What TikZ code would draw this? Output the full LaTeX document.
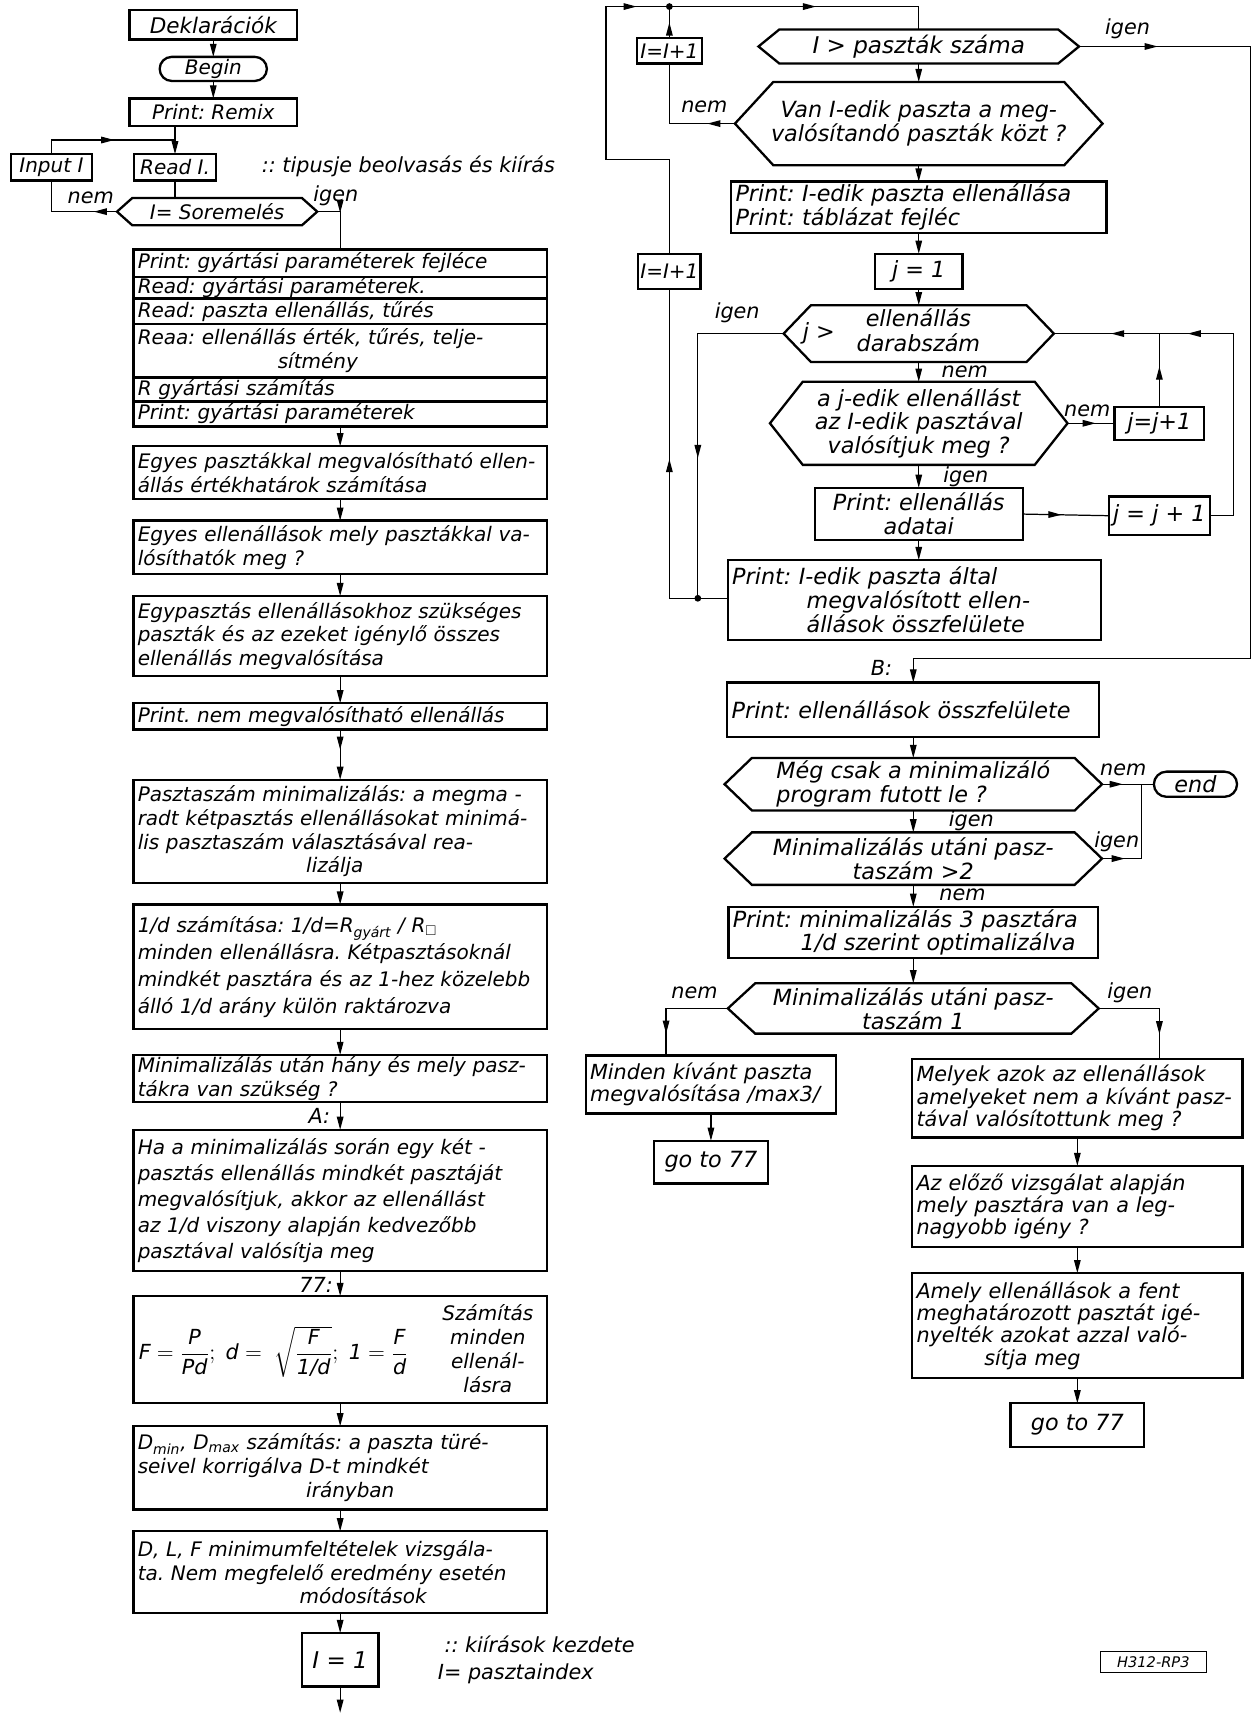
\documentclass[tikz,border=0pt]{standalone}
\usepackage{amsmath,amssymb}
\usepackage{fontspec}
\setmainfont{DejaVu Sans}
\usetikzlibrary{arrows.meta,decorations.markings}
\newcommand\myhex[2]{\draw[boxline] (#1.west) -- ([xshift=#2]#1.north west) -- ([xshift=-#2]#1.north east) -- (#1.east) -- ([xshift=-#2]#1.south east) -- ([xshift=#2]#1.south west) -- cycle;}
\newcommand\mytx[1]{\text{#1}}
\begin{document}
\frenchspacing
\begin{tikzpicture}[x=0.025cm,y=-0.025cm,
  >={Triangle[length=3mm,width=1.5mm]},
  every node/.style={outer sep=0pt},
  lf/.style={font=\fontsize{13}{15.5}\selectfont\itshape},
  rf/.style={font=\fontsize{14.5}{15.5}\selectfont\itshape},
  sf/.style={font=\fontsize{13.5}{14.5}\selectfont\itshape},
  boxline/.style={line width=1.5pt},
  ln/.style={line width=0.8pt},
  ar/.style={ln,->},
  mk/.style={postaction={decorate},decoration={markings,mark=at position #1 with {\arrow{>}}}},
  bx/.style={draw,boxline,inner xsep=0.1cm,inner ysep=1pt},
  sz/.style 2 args={minimum width=#1,minimum height=#2},
  tw/.style={text width=#1,align=left},
  lb/.style={bx,lf,sz={9.45cm}{#1},tw=9.25cm},
  rw/.style={bx,lf,sz={9.45cm}{#1},tw=9.25cm,inner ysep=0pt},
  hx/.style={inner sep=1pt,align=center},
  lbl/.style={font=\fontsize{13.5}{15}\selectfont\itshape,inner sep=1pt},
]
\fill[white] (0,0) rectangle (1146,1568);
\path[use as bounding box] (0,0) rectangle (1146,1568);

% ---------------- left column ----------------
\node[bx,sz={3.825cm}{0.675cm},font=\fontsize{14}{16}\selectfont\itshape] (dekl) at (195,22.5) {Deklarációk};
\node[bx,lf,sz={2.45cm}{0.55cm},rounded corners=0.275cm] (begin) at (195,63) {Begin};
\node[bx,lf,sz={3.825cm}{0.625cm}] (remix) at (195,102.5) {Print: Remix};
\node[bx,lf,sz={1.85cm}{0.6cm},inner xsep=1pt] (input) at (47,153) {Input I};
\node[bx,lf,sz={1.875cm}{0.6cm},inner xsep=1pt] (readi) at (160,153) {Read I.};
\node[lbl,anchor=west] (note1) at (238,152) {:: tipusje beolvasás és kiírás};
\node[hx,lf,sz={4.575cm}{0.625cm}] (sor) at (198.5,193.5) {I= Soremelés};
\myhex{sor}{0.35cm}
\node[lbl] (lnem1) at (83,181) {nem};
\node[lbl] (ligen1) at (307,179) {igen};

\node[rw=0.625cm] (r1) at (311,240.5) {Print: gyártási paraméterek fejléce};
\node[rw=0.5cm] (r2) at (311,263) {Read: gyártási paraméterek.};
\node[rw=0.575cm] (r3) at (311,284.5) {Read: paszta ellenállás, tűrés};
\node[rw=1.225cm] (r4) at (311,320.5) {Reaa: ellenállás érték, tűrés, telje-\\\hspace*{3.2cm}sítmény};
\node[rw=0.55cm] (r5) at (311,356) {R gyártási számítás};
\node[rw=0.575cm] (r6) at (311,378.5) {Print: gyártási paraméterek};

\node[lb=1.2cm] (b5) at (311,432) {Egyes pasztákkal megvalósítható ellen-\\állás értékhatárok számítása};
\node[lb=1.225cm] (b6) at (311,500.5) {Egyes ellenállások mely pasztákkal va-\\lósíthatók meg ?};
\node[lb=1.825cm] (b7) at (311,581.5) {Egypasztás ellenállásokhoz szükséges\\paszták és az ezeket igénylő összes\\ellenállás megvalósítása};
\node[lb=0.6cm] (b8) at (311,655) {Print. nem megvalósítható ellenállás};
\node[lb=2.35cm] (b9) at (311,760) {Pasztaszám minimalizálás: a megma -\\radt kétpasztás ellenállásokat minimá-\\lis pasztaszám választásával rea-\\\hspace*{3.85cm}lizálja};
\node[lb=2.85cm,font=\fontsize{13}{17.5}\selectfont\itshape] (b10) at (311,884) {1/d számítása: 1/d=R\textsubscript{gyárt} / R\textsubscript{$\square$}\\minden ellenállásra. Kétpasztásoknál\\mindkét pasztára és az 1-hez közelebb\\álló 1/d arány külön raktározva};
\node[lb=1.05cm] (b11) at (311,986) {Minimalizálás után hány és mely pasz-\\tákra van szükség ?};
\node[lbl] (lA) at (292,1020) {A:};
\node[lb=3.225cm,font=\fontsize{13}{17}\selectfont\itshape] (b12) at (311,1097.5) {Ha a minimalizálás során egy két -\\pasztás ellenállás mindkét pasztáját\\megvalósítjuk, akkor az ellenállást\\az 1/d viszony alapján kedvezőbb\\pasztával valósítja meg};
\node[lbl] (l77) at (289,1175) {77:};
\node[bx,sz={9.45cm}{2.45cm}] (b13) at (311,1234) {};
\node[font=\fontsize{13.5}{16}\selectfont\itshape] (b13f) at (250,1236) {$\mytx{F}=\dfrac{\mytx{P}}{\mytx{Pd}};\ \mytx{d}=\ \sqrt{\dfrac{\mytx{F}}{\mytx{1/d}}};\ \mytx{1}=\dfrac{\mytx{F}}{\mytx{d}}$};
\node[lf,align=center] (b13t) at (446,1233) {Számítás\\minden\\ellenál-\\lásra};
\node[lb=1.9cm] (b14) at (311,1342) {D\textsubscript{min}, D\textsubscript{max} számítás: a paszta türé-\\seivel korrigálva D-t mindkét\\\hspace*{3.85cm}irányban};
\node[lb=1.875cm] (b15) at (311,1437.5) {D, L, F minimumfeltételek vizsgála-\\ta. Nem megfelelő eredmény esetén\\\hspace*{3.7cm}módosítások};
\node[bx,sz={1.75cm}{1.225cm},font=\fontsize{15}{16}\selectfont\itshape] (i1) at (311,1517.5) {I = 1};
\node[lbl,anchor=west] (note2) at (405,1503) {:: kiírások kezdete};
\node[lbl,anchor=west] (note3) at (399,1530) {I= pasztaindex};
\coordinate (bend) at (311,1566);

% left connectors
\draw[ar] (dekl.south) -- (begin.north);
\draw[ar] (begin.south) -- (remix.north);
\coordinate (jr) at (160,128);
\draw[ar] (remix.south -| readi.north) -- (readi.north);
\draw[ln,mk=0.56] (input.north) |- (jr);
\draw[ln] (readi.south) -- (readi.south |- sor.north);
\draw[ln,mk=0.24] (sor.west) -| (input.south);
\draw[ln,mk=0.4] (sor.east) -| (r1.north);
\draw[ar] (r6.south) -- (b5.north);
\draw[ar] (b5.south) -- (b6.north);
\draw[ar] (b6.south) -- (b7.north);
\draw[ar] (b7.south) -- (b8.north);
\draw[ar,mk=0.4] (b8.south) -- (b9.north);
\draw[ar] (b9.south) -- (b10.north);
\draw[ar] (b10.south) -- (b11.north);
\draw[ar] (b11.south) -- (b12.north);
\draw[ar] (b12.south) -- (b13.north);
\draw[ar] (b13.south) -- (b14.north);
\draw[ar] (b14.south) -- (b15.north);
\draw[ar] (b15.south) -- (i1.north);
\draw[ar] (i1.south) -- (bend);

% ---------------- right column ----------------
\node[bx,sz={1.475cm}{0.575cm},inner xsep=1pt,font=\fontsize{13}{14}\selectfont\itshape] (ipl1) at (612,46.5) {I=I+1};
\node[hx,sz={7.325cm}{0.775cm},font=\fontsize{15}{16}\selectfont\itshape] (hexA) at (840,42.5) {I > paszták száma};
\myhex{hexA}{0.475cm}
\node[hx,rf,sz={8.4cm}{1.9cm}] (hexB) at (840,113) {Van I-edik paszta a meg-\\valósítandó paszták közt ?};
\myhex{hexB}{0.875cm}
\node[bx,rf,sz={8.575cm}{1.175cm},tw=8.375cm] (pI) at (840,189.5) {Print: I-edik paszta ellenállása\\Print: táblázat fejléc};
\node[bx,rf,sz={2cm}{0.8cm}] (j1) at (840,248) {j = 1};
\node[bx,sz={1.425cm}{0.8cm},inner xsep=1pt,font=\fontsize{13}{14}\selectfont\itshape] (ipl2) at (612,248) {I=I+1};
\node[hx,rf,sz={6.175cm}{1.3cm}] (hexC) at (840,305) {\makebox[5.9cm][l]{\hspace{0.3cm}j >\hspace{0.5cm}\begin{tabular}[c]{@{}c@{}}ellenállás\\darabszám\end{tabular}}};
\myhex{hexC}{0.625cm}
\node[hx,rf,sz={6.8cm}{1.9cm}] (hexD) at (840,387) {a j-edik ellenállást\\az I-edik pasztával\\valósítjuk meg ?};
\myhex{hexD}{0.75cm}
\node[bx,rf,sz={2.05cm}{0.75cm}] (jj1) at (1060,387) {j=j+1};
\node[bx,rf,sz={4.75cm}{1.2cm},align=center] (padat) at (840,470) {Print: ellenállás\\adatai};
\node[bx,rf,sz={2.15cm}{0.875cm}] (jj2) at (1060,471.5) {j = j + 1};
\node[bx,rf,sz={8.525cm}{1.825cm},tw=8.325cm] (pIall) at (836,548.5) {Print: I-edik paszta által\\\hspace*{1.7cm}megvalósított ellen-\\\hspace*{1.7cm}állások összfelülete};
\node[lbl] (lB) at (806,611) {B:};
\node[bx,rf,sz={8.5cm}{1.25cm},tw=8.3cm] (pOssz) at (835,649) {Print: ellenállások összfelülete};
\node[hx,rf,sz={8.625cm}{1.2cm},align=left] (hexE) at (835,717) {Még csak a minimalizáló\\program futott le ?};
\myhex{hexE}{0.625cm}
\node[bx,rf,sz={1.9cm}{0.575cm},rounded corners=0.2875cm] (endN) at (1093,717) {end};
\node[hx,rf,sz={8.625cm}{1.2cm}] (hexF) at (835,785) {Minimalizálás utáni pasz-\\taszám >2};
\myhex{hexF}{0.625cm}
\node[bx,rf,sz={8.45cm}{1.175cm},tw=8.25cm] (pMin) at (835,852.5) {Print: minimalizálás 3 pasztára\\\hspace*{1.55cm}1/d szerint optimalizálva};
\node[hx,rf,sz={8.475cm}{1.15cm}] (hexG) at (835,922) {Minimalizálás utáni pasz-\\taszám 1};
\myhex{hexG}{0.625cm}
\node[bx,sf,sz={5.725cm}{1.325cm},tw=5.525cm] (minden) at (650,991.5) {Minden kívánt paszta\\megvalósítása /max3/};
\node[bx,rf,sz={2.6cm}{0.975cm}] (goto1) at (650,1062.5) {go to 77};
\node[bx,sf,sz={7.55cm}{1.8cm},tw=7.35cm] (melyek) at (985,1004) {Melyek azok az ellenállások\\amelyeket nem a kívánt pasz-\\tával valósítottunk meg ?};
\node[bx,sf,sz={7.55cm}{1.85cm},tw=7.35cm] (azelozo) at (985,1103) {Az előző vizsgálat alapján\\mely pasztára van a leg-\\nagyobb igény ?};
\node[bx,sf,sz={7.55cm}{2.4cm},tw=7.35cm] (amely) at (985,1212) {Amely ellenállások a fent\\meghatározott pasztát igé-\\nyelték azokat azzal való-\\\hspace*{1.55cm}sítja meg};
\node[bx,rf,sz={3.05cm}{1cm}] (goto2) at (985,1303) {go to 77};
\node[draw,line width=0.6pt,sz={2.425cm}{0.475cm},inner sep=1pt,font=\fontsize{9.5}{10}\selectfont\itshape] (h312) at (1054.5,1519.5) {H312-RP3};

% right labels
\node[lbl] (l1) at (1031,26) {igen};
\node[lbl] (l2) at (644,98) {nem};
\node[lbl] (l3) at (674,286) {igen};
\node[lbl] (l4) at (882,340) {nem};
\node[lbl] (l5) at (994,376) {nem};
\node[lbl] (l6) at (883,436) {igen};
\node[lbl] (l7) at (1027,704) {nem};
\node[lbl] (l8) at (888,750) {igen};
\node[lbl] (l9) at (1021,770) {igen};
\node[lbl] (l10) at (880,818) {nem};
\node[lbl] (l11) at (635,908) {nem};
\node[lbl] (l12) at (1033,908) {igen};

% right connectors
\coordinate (tc1) at (612,146);
\coordinate (tc2) at (554,146);
\coordinate (tc3) at (554,6);
\coordinate (tdot) at (612,6);
\coordinate (tc4) at (840,6);
\draw[ln,postaction={decorate},decoration={markings,mark=at position 7.8cm with {\arrow{>}},mark=at position 11.9cm with {\arrow{>}}}] (ipl2.north) -- (tc1) -- (tc2) -- (tc3) -- (tc4) -- (hexA.north);
\draw[ln,mk=0.5] (ipl1.north) -- (tdot);
\fill (tdot) circle (2.2pt);
\draw[ln,mk=0.22] (hexB.west) -| (ipl1.south);
\draw[ar] (hexA.south) -- (hexB.north);
\draw[ar] (hexB.south) -- (pI.north);
\draw[ar] (pI.south) -- (pI.south |- j1.north);
\draw[ar] (j1.south) -- (hexC.north);
\coordinate (rt) at (1143,42.5);
\coordinate (rb) at (1143,602);
\coordinate (bb) at (835,602);
\draw[ar,mk=1.8cm] (hexA.east) -- (rt) -- (rb) -- (bb) -- (pOssz.north);
\coordinate (jd) at (638,547);
\coordinate (lc) at (612,547);
\draw[ln,mk=0.6] (hexC.west) -| (jd);
\draw[ln] (pIall.west |- jd) -- (jd) -- (lc);
\fill (jd) circle (2.2pt);
\draw[ln,mk=0.45] (lc) -- (ipl2.south);
\draw[ar] (hexC.south) -- (hexD.north);
\draw[ln,mk=0.6] (hexD.east) -- (jj1.west);
\coordinate (jm) at (1060,305);
\draw[ln,mk=0.55] (jj1.north) -- (jm);
\coordinate (rr1) at (1128,471.5);
\coordinate (rr2) at (1128,305);
\draw[ln,postaction={decorate},decoration={markings,mark=at position 5.76cm with {\arrow{>}},mark=at position 7.51cm with {\arrow{>}}}] (jj2.east) -- (rr1) -- (rr2) -- (hexC.east);
\draw[ar] (hexD.south) -- (padat.north);
\draw[ln,mk=0.45] (padat.east) -- (jj2.west);
\draw[ar] (padat.south) -- (padat.south |- pIall.north);
\draw[ar] (pOssz.south) -- (hexE.north);
\draw[ar] (hexE.south) -- (hexF.north);
\draw[ar] (hexF.south) -- (pMin.north);
\draw[ar] (pMin.south) -- (hexG.north);
\draw[ln,mk=0.4] (hexE.east) -- (endN.west);
\coordinate (fe1) at (1044,785);
\coordinate (fe2) at (1044,717);
\draw[ln,mk=0.2] (hexF.east) -- (fe1) -- (fe2);
\draw[ln,mk=0.8] (hexG.west) -| ([xshift=-1.025cm]minden.north);
\draw[ln,mk=0.78] (hexG.east) -| ([xshift=1.875cm]melyek.north);
\draw[ar] (minden.south) -- (goto1.north);
\draw[ar] (melyek.south) -- (azelozo.north);
\draw[ar] (azelozo.south) -- (amely.north);
\draw[ar] (amely.south) -- (goto2.north);
\end{tikzpicture}
\end{document}
